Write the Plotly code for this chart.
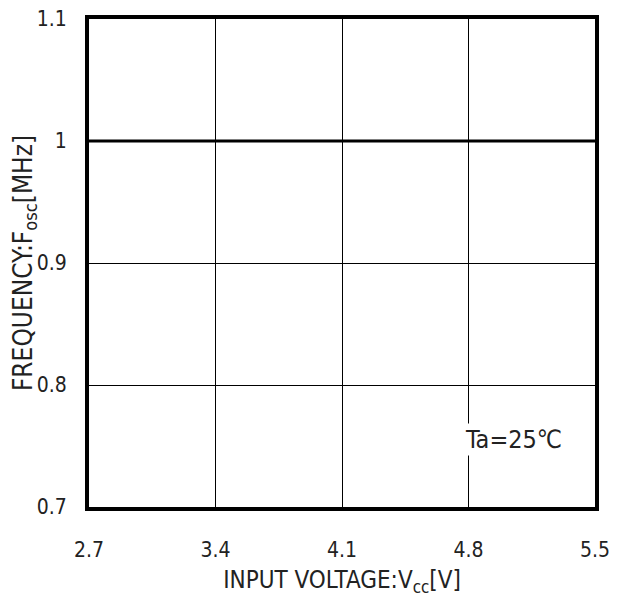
import plotly.graph_objects as go

voltage = [2.7, 3.4, 4.1, 4.8, 5.5]
frequency = [1.0, 1.0, 1.0, 1.0, 1.0]
x_ticks = [2.7, 3.4, 4.1, 4.8, 5.5]
x_tick_labels = ["2.7", "3.4", "4.1", "4.8", "5.5"]
y_ticks = [0.7, 0.8, 0.9, 1.0, 1.1]
y_tick_labels = ["0.7", "0.8", "0.9", "1", "1.1"]

FONT = "DejaVu Sans Condensed, Liberation Sans Narrow, Liberation Sans, Arial, sans-serif"

fig = go.Figure()
fig.add_trace(go.Scatter(x=voltage, y=frequency, mode="lines",
                         line=dict(color="black", width=3), showlegend=False))

fig.update_layout(
    width=624, height=601,
    margin=dict(l=81, r=37, t=11, b=102, autoexpand=False),
    paper_bgcolor="white", plot_bgcolor="white",
    font=dict(family=FONT, color="#222", size=21),
)
fig.update_xaxes(
    range=[2.7, 5.5], tickvals=x_ticks, ticktext=x_tick_labels,
    showgrid=True, gridcolor="black", gridwidth=1,
    showline=True, linecolor="black", linewidth=4, mirror=True,
    ticks="", ticklabelstandoff=21, zeroline=False, ticklabeloverflow="allow",
    tickfont=dict(family=FONT, size=21, color="#222"),
    title=dict(text="INPUT VOLTAGE:V<sub>cc</sub>[V]", standoff=11,
               font=dict(family=FONT, size=24, color="#222")),
)
fig.update_yaxes(
    range=[0.7, 1.1], tickvals=y_ticks, ticktext=y_tick_labels,
    showgrid=True, gridcolor="black", gridwidth=1,
    showline=True, linecolor="black", linewidth=4, mirror=True,
    ticks="", ticklabelstandoff=14, zeroline=False, ticklabeloverflow="allow",
    tickfont=dict(family=FONT, size=21, color="#222"),
    title=dict(text="FREQUENCY:F<sub>osc</sub>[MHz]", standoff=5,
               font=dict(family=FONT, size=26, color="#222")),
)
fig.add_annotation(x=5.05, y=0.755, xref="x", yref="y", text="Ta=25℃",
                   showarrow=False, bgcolor="white",
                   font=dict(family=FONT, size=25, color="#222"))

fig.write_html("out.html")
